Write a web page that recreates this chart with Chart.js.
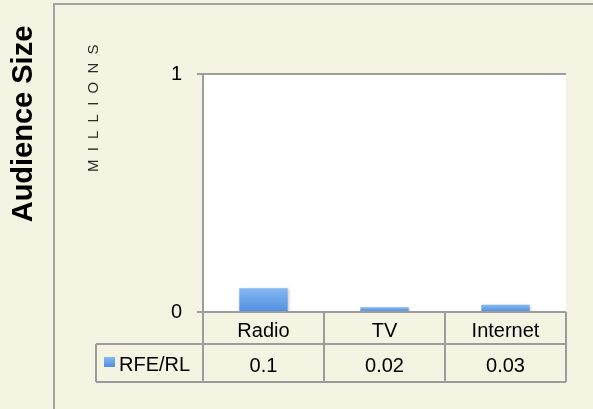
<!DOCTYPE html>
<html>
<head>
<meta charset="utf-8">
<script src="https://cdn.jsdelivr.net/npm/chart.js@4/dist/chart.umd.min.js"></script>
<style>
html,body{margin:0;padding:0;background:#F5F3E1;}
#wrap{width:593px;height:409px;position:relative;}
canvas{display:block;}
</style>
</head>
<body>
<div id="wrap"><canvas id="c" width="593" height="409"></canvas></div>
<script>
const categories = ['Radio', 'TV', 'Internet'];
const seriesName = 'RFE/RL';
const seriesValues = [0.1, 0.02, 0.03];
const valueLabels = ['0.1', '0.02', '0.03'];
const yMin = 0, yMax = 1, yStep = 1;
const chartTitle = 'Audience Size';
const unitLabel = 'MILLIONS';

const FONT = '"Liberation Sans", Arial, Helvetica, sans-serif';
const LINE = '#9c9c9c';

function barGradient(ctx) {
  const chart = ctx.chart;
  if (!chart.chartArea || ctx.type !== 'data') return '#5f9be6';
  const y = chart.scales.y;
  const top = y.getPixelForValue(ctx.raw);
  const bot = y.getPixelForValue(0);
  const g = chart.ctx.createLinearGradient(0, top, 0, Math.max(bot, top + 1));
  g.addColorStop(0, '#86b8f1');
  g.addColorStop(1, '#4f8ee2');
  return g;
}

const decor = {
  id: 'decor',
  beforeDraw(chart) {
    const c = chart.ctx, a = chart.chartArea;
    c.save();
    c.fillStyle = '#F5F3E1';
    c.fillRect(0, 0, chart.width, chart.height);
    c.strokeStyle = '#a3a3a3';
    c.lineWidth = 2;
    c.beginPath();
    c.moveTo(54, chart.height + 2);
    c.lineTo(54, 4);
    c.lineTo(chart.width + 2, 4);
    c.stroke();
    c.fillStyle = '#ffffff';
    c.fillRect(a.left, a.top, a.right - a.left, a.bottom - a.top);
    c.fillStyle = '#000';
    c.font = 'bold 29px ' + FONT;
    c.textAlign = 'center';
    c.textBaseline = 'alphabetic';
    c.translate(32, 124);
    c.rotate(-Math.PI / 2);
    c.fillText(chartTitle, 0, 0);
    c.restore();
    c.save();
    c.fillStyle = '#2a2a2a';
    c.font = '15px ' + FONT;
    try { c.letterSpacing = '8.2px'; } catch (e) {}
    c.textAlign = 'left';
    c.textBaseline = 'alphabetic';
    c.translate(98, 172);
    c.rotate(-Math.PI / 2);
    c.fillText(unitLabel, 0, 0);
    c.restore();
  },
  beforeDatasetsDraw(chart) {
    const c = chart.ctx;
    c.save();
    c.shadowColor = 'rgba(0,0,0,0.22)';
    c.shadowBlur = 3;
    c.shadowOffsetX = 1;
    c.shadowOffsetY = 1;
  },
  afterDatasetsDraw(chart) {
    chart.ctx.restore();
  },
  afterDraw(chart) {
    const c = chart.ctx, a = chart.chartArea, x = chart.scales.x;
    const n = categories.length;
    const colW = (a.right - a.left) / n;
    const y0 = a.bottom, y1 = a.bottom + 32, y2 = a.bottom + 70;
    const legL = 96;
    c.save();
    c.strokeStyle = LINE;
    c.lineWidth = 2;
    c.beginPath();
    c.moveTo(a.left, y0); c.lineTo(a.right, y0);
    c.moveTo(legL, y1); c.lineTo(a.right, y1);
    c.moveTo(legL, y2); c.lineTo(a.right, y2);
    c.moveTo(legL, y1); c.lineTo(legL, y2);
    for (let i = 0; i <= n; i++) {
      const xx = a.left + i * colW;
      c.moveTo(xx, y0); c.lineTo(xx, y2);
    }
    c.stroke();
    c.fillStyle = '#000';
    c.font = '20px ' + FONT;
    c.textAlign = 'center';
    c.textBaseline = 'alphabetic';
    for (let i = 0; i < n; i++) {
      const cx = x.getPixelForValue(i);
      c.fillText(categories[i], cx, y0 + 25);
      c.fillText(valueLabels[i], cx, y1 + 28);
    }
    const g = c.createLinearGradient(0, y1 + 13, 0, y1 + 23);
    g.addColorStop(0, '#86b8f1');
    g.addColorStop(1, '#4f8ee2');
    c.fillStyle = g;
    c.fillRect(104, y1 + 13, 11, 10);
    c.fillStyle = '#000';
    c.textAlign = 'left';
    c.fillText(seriesName, 119, y1 + 27);
    c.restore();
  }
};

new Chart(document.getElementById('c'), {
  type: 'bar',
  data: {
    labels: categories,
    datasets: [{
      label: seriesName,
      data: seriesValues,
      backgroundColor: barGradient,
      borderWidth: 0,
      categoryPercentage: 1.0,
      barPercentage: 0.4
    }]
  },
  options: {
    responsive: false,
    devicePixelRatio: 1,
    animation: false,
    events: [],
    layout: { padding: { left: 0, top: 74, right: 27, bottom: 97 } },
    plugins: { legend: { display: false }, tooltip: { enabled: false }, title: { display: false } },
    scales: {
      x: { display: false },
      y: {
        min: yMin, max: yMax,
        afterFit(s) { s.width = 203; },
        ticks: {
          stepSize: yStep,
          padding: 15,
          color: '#000',
          font: { family: FONT, size: 20 },
          callback: v => String(v)
        },
        grid: { color: LINE, lineWidth: 2, tickLength: 6, tickColor: LINE, drawTicks: true },
        border: { display: true, color: LINE, width: 2 }
      }
    }
  },
  plugins: [decor]
});
</script>
</body>
</html>
